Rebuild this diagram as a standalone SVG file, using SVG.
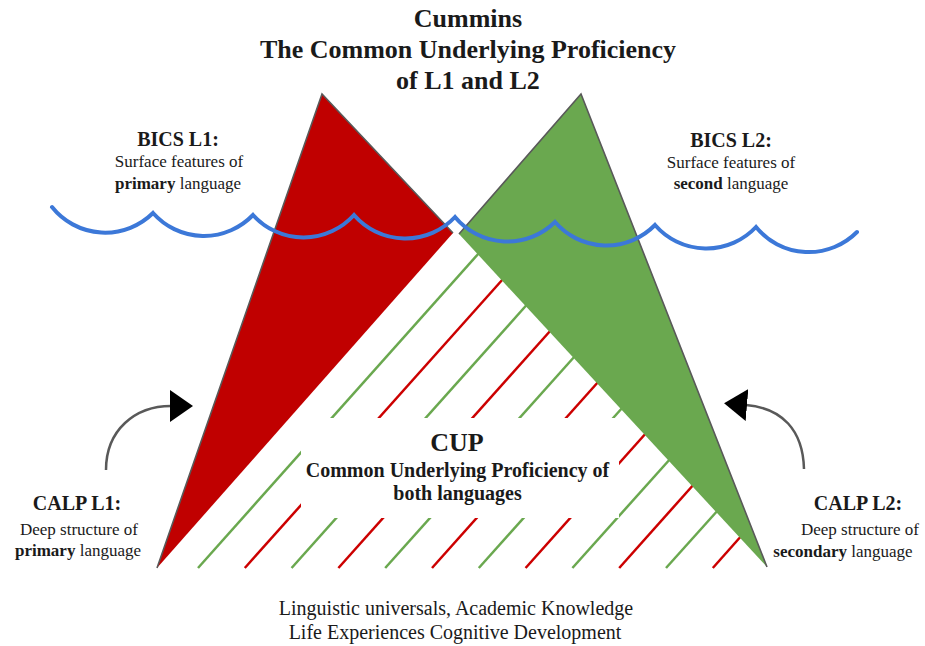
<svg xmlns="http://www.w3.org/2000/svg" width="925" height="646" viewBox="0 0 925 646">
  <defs>
    <style>
      text { font-family: "Liberation Serif", "Times New Roman", serif; fill: #1a1a1a; }
      .title { font-size: 26px; font-weight: bold; text-anchor: middle; }
      .head { font-size: 20px; font-weight: bold; text-anchor: middle; }
      .body { font-size: 17px; text-anchor: middle; }
      .b { font-weight: bold; }
      .cupsub { font-size: 20px; font-weight: bold; text-anchor: middle; }
      .foot { font-size: 20px; text-anchor: middle; }
      .hg { stroke: #6aa84f; stroke-width: 2.5; }
      .hr { stroke: #cc0000; stroke-width: 2.5; }
      .edge { fill: none; stroke: #595959; stroke-width: 1.6; stroke-linejoin: miter; }
      .arrow { fill: none; stroke: #595959; stroke-width: 2.5; marker-end: url(#head); }
    </style>
    <marker id="head" markerUnits="userSpaceOnUse" viewBox="0 0 23 32" refX="1" refY="16" markerWidth="23" markerHeight="32" orient="auto">
      <path d="M0,0 L23,16 L0,32 Z" fill="#000"/>
    </marker>
  </defs>
  <rect width="925" height="646" fill="#fff"/>

  <g id="hatch">
    <line class="hg" x1="198" y1="568" x2="479" y2="253"/>
    <line class="hr" x1="244.8" y1="568" x2="503" y2="279"/>
    <line class="hg" x1="291.6" y1="568" x2="527" y2="304.5"/>
    <line class="hr" x1="338.4" y1="568" x2="551" y2="330"/>
    <line class="hg" x1="385.2" y1="568" x2="575" y2="356"/>
    <line class="hr" x1="432" y1="568" x2="599" y2="381"/>
    <line class="hg" x1="478.8" y1="568" x2="623" y2="407"/>
    <line class="hr" x1="525.6" y1="568" x2="647" y2="432"/>
    <line class="hg" x1="572.4" y1="568" x2="671" y2="458"/>
    <line class="hr" x1="619.2" y1="568" x2="695" y2="483"/>
    <line class="hg" x1="666" y1="568" x2="719" y2="509"/>
    <line class="hr" x1="712.8" y1="568" x2="743" y2="534"/>
    <rect x="301" y="418" width="318" height="100" fill="#fff"/>
  </g>

  <g id="red-triangle">
    <polygon points="322,94 453,233 157,568" fill="#c00000"/>
    <polyline class="edge" points="157,568 322,94 453,233"/>
  </g>

  <g id="green-triangle">
    <polygon points="581,94 767,567 459,234" fill="#6aa84f"/>
    <polyline class="edge" points="459,234 581,94 767,567"/>
  </g>

  <g id="wave">
    <path d="M52,207 A68,68 0 0 0 153,213 A68,68 0 0 0 253,215 A68,68 0 0 0 354,215 A68,68 0 0 0 455,217 A68,68 0 0 0 555,222 A68,68 0 0 0 655,225 A68,68 0 0 0 756,227 A68,68 0 0 0 857,232" fill="none" stroke="#3c78d8" stroke-width="4" stroke-linecap="round"/>
  </g>

  <g id="title">
    <text class="title" x="468" y="27">Cummins</text>
    <text class="title" x="468" y="58">The Common Underlying Proficiency</text>
    <text class="title" x="468" y="89">of L1 and L2</text>
  </g>

  <g id="bics-l1">
    <text class="head" x="178" y="146">BICS L1:</text>
    <text class="body" x="179" y="167">Surface features of</text>
    <text class="body" x="178" y="189"><tspan class="b">primary</tspan> language</text>
  </g>

  <g id="bics-l2">
    <text class="head" x="731" y="147">BICS L2:</text>
    <text class="body" x="731" y="168">Surface features of</text>
    <text class="body" x="731" y="189"><tspan class="b">second</tspan> language</text>
  </g>

  <g id="cup">
    <text class="title" x="457" y="451">CUP</text>
    <text class="cupsub" x="457.5" y="477">Common Underlying Proficiency of</text>
    <text class="cupsub" x="457.5" y="500">both languages</text>
  </g>

  <g id="calp-l1">
    <text class="head" x="77" y="510">CALP L1:</text>
    <text class="body" x="79" y="535">Deep structure of</text>
    <text class="body" x="78" y="556"><tspan class="b">primary</tspan> language</text>
  </g>

  <g id="calp-l2">
    <text class="head" x="858" y="510">CALP L2:</text>
    <text class="body" x="860" y="535">Deep structure of</text>
    <text class="body" x="843" y="557"><tspan class="b">secondary</tspan> language</text>
  </g>

  <g id="footer">
    <text class="foot" x="456" y="615">Linguistic universals, Academic Knowledge</text>
    <text class="foot" x="455" y="639">Life Experiences Cognitive Development</text>
  </g>

  <g id="connectors">
    <path class="arrow" d="M106,470 C106,430 135,406 171,406"/>
    <path class="arrow" d="M804,469 C803,430 782,408 746,405"/>
  </g>
</svg>
